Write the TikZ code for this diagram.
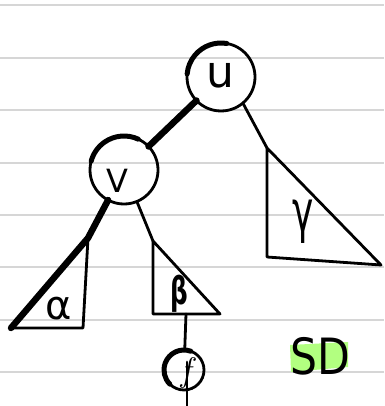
\documentclass[tikz,border=0pt]{standalone}
\usepackage{fontspec}
\newfontfamily\hand{DejaVu Sans}
\definecolor{paper}{RGB}{214,214,214}
\definecolor{marker}{RGB}{178,255,128}
\begin{document}
\begin{tikzpicture}[x=1pt,y=-1pt,
  ink/.style={line width=2.8pt, line cap=round, line join=round},
  heavy/.style={line width=6.5pt, line cap=round, line join=round},
  rim/.style={line width=5pt, line cap=round},
  vertex/.style={circle, draw, ink, minimum size=68pt, inner sep=0pt, outer sep=0pt},
  ruling/.style={draw=paper, line width=1.5pt},
  lbl/.style={inner sep=0pt}]
\useasboundingbox (0,0) rectangle (384,406);

% ruled notebook paper
\foreach \y in {5,58,110,163,215,267,320,372}
  \draw[ruling] (0,\y) -- (384,\y);

% tree nodes
\node[vertex] (u) at (221,77) {};
\node[vertex] (v) at (124,170) {};
\node[vertex, minimum size=40pt] (f) at (184,370) {};

% heavier pen pressure on the upper-left of each circle
\draw[rim] (u.80) arc[start angle=-80, end angle=-175, radius=34];
\draw[rim] (v.65) arc[start angle=-65, end angle=-165, radius=34];
\draw[rim] (f.70) arc[start angle=-70, end angle=-225, radius=20];

% subtree corners
\coordinate (a1) at (88,238);
\coordinate (a2) at (11,328);
\coordinate (a3) at (83,328);
\coordinate (b1) at (153,241);
\coordinate (b2) at (153,314);
\coordinate (b3) at (220,314);
\coordinate (g1) at (267,148);
\coordinate (g2) at (267,257);
\coordinate (g3) at (381,265);
\coordinate (bb) at (186,314);
\coordinate (ft) at (187,406);

% edges
\draw[heavy] (u) -- (v);
\draw[heavy] (v) -- (a1) -- (a2);
\draw[ink] (v) -- (b1);
\draw[ink] (u.-50) -- (g1);
\draw[ink] (bb) -- (f);

% subtrees
\draw[ink] (a1) -- (a3) -- (a2);
\draw[ink] (b1) -- (b2) -- (b3) -- cycle;
\draw[ink] (g1) -- (g2) -- (g3) -- cycle;

% stroke through the leaf
\draw[ink] (f.center) ++(3,-8) -- (ft);

% highlighter
\fill[marker] (290,345) -- (348,342) -- (348,367) -- (291,372) -- cycle;

% labels
\node[lbl, font=\hand\fontsize{44}{44}\selectfont] (ul) at (220,75) {u};
\node[lbl, font=\hand\fontsize{32}{32}\selectfont] (vl) at (117,181) {V};
\node[lbl, font=\hand\fontsize{40}{40}\selectfont] (al) at (59,309) {α};
\node[lbl, font=\hand\bfseries\fontsize{38}{38}\selectfont] (bl) at (179,294) {\scalebox{0.65}[1]{β}};
\node[lbl, font=\hand\fontsize{36}{36}\selectfont] (gl) at (303,222) {\scalebox{1}[1.6]{γ}};
\node[lbl, font=\itshape\fontsize{34}{34}\selectfont] (fl) at (186,373) {f};
\node[lbl, font=\hand\fontsize{50}{50}\selectfont] (sd) at (320,356) {\scalebox{0.85}[1]{SD}};
\end{tikzpicture}
\end{document}
